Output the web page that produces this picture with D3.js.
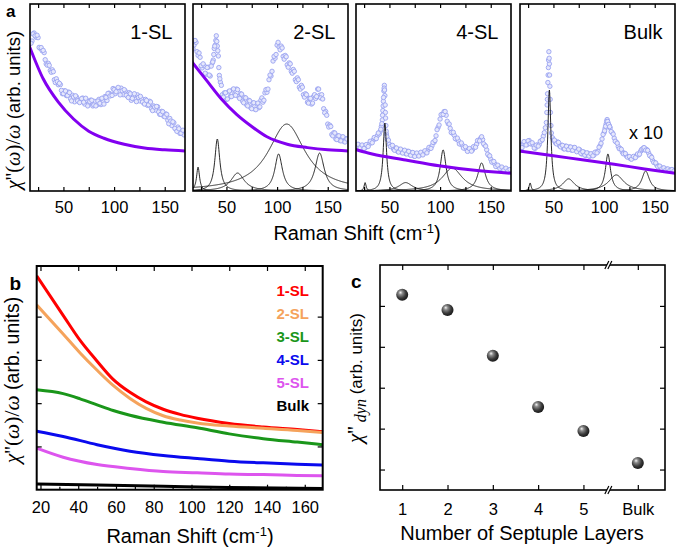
<!DOCTYPE html>
<html><head><meta charset="utf-8">
<script src="https://cdn.jsdelivr.net/npm/d3@7"></script>
<style>
body{margin:0;background:#fff}
svg{display:block}
text{font-family:"Liberation Sans",Arial,sans-serif;fill:#000}
</style>
</head><body>
<svg id="chart" width="676" height="549"></svg>
<script>
// ---------------- DATA ----------------
// Panel a: measured spectra (open circles), [Raman shift, intensity]
const scatter1SL = [[17,8.02],[19,8.02],[21,8.45],[23,8.22],[25,8.2],[27,7.63],[29,7.5],[31,7.4],[33,6.8],[35,6.83],[37,6.45],[39,6.48],[41,5.95],[43,6.0],[45,5.68],[47,5.69],[49,5.2],[51,5.36],[53,5.1],[55,5.29],[57,4.93],[59,5.12],[61,4.77],[63,5.02],[65,4.8],[67,4.86],[69,4.97],[71,4.65],[73,4.85],[75,4.67],[77,4.86],[79,4.55],[81,4.79],[83,4.6],[85,4.9],[87,4.62],[89,4.8],[91,5.05],[93,4.84],[95,5.23],[97,5.17],[99,5.48],[101,5.2],[103,5.46],[105,5.33],[107,5.5],[109,5.15],[111,5.35],[113,5.08],[115,5.26],[117,4.85],[119,5.09],[121,4.9],[123,5.14],[125,4.82],[127,4.95],[129,4.73],[131,4.9],[133,4.58],[135,4.8],[137,4.4],[139,4.55],[141,4.33],[143,4.5],[145,4.1],[147,4.26],[149,4.0],[151,4.12],[153,3.78],[155,3.88],[157,3.5],[159,3.65],[161,3.3],[163,3.42],[165,3.08],[167,3.2],[169,3.0]];
const scatter1SLb = [[18,7.9],[20,8.4],[22,8.3],[24,8.33],[26,7.68],[28,7.67],[30,7.52],[32,7.02],[34,6.73],[36,6.72],[38,6.35],[40,6.38],[42,5.8],[44,5.85],[46,5.76],[48,5.38],[50,5.21],[52,5.35],[54,5.11],[56,5.26],[58,4.82],[60,5.03],[62,5.09],[64,4.82],[66,4.73],[68,4.94],[70,4.75],[72,4.96],[74,4.55],[76,4.78],[78,4.85],[80,4.6],[82,4.55],[84,4.81],[86,4.69],[88,4.96],[90,4.65],[92,5.01],[94,5.22],[96,5.08],[98,5.11],[100,5.42],[102,5.31],[104,5.54],[106,5.14],[108,5.36],[110,5.42],[112,5.12],[114,5.0],[116,5.2],[118,4.95],[120,5.2],[122,4.78],[124,5.01],[126,5.06],[128,4.76],[130,4.65],[132,4.84],[134,4.61],[136,4.76],[138,4.3],[140,4.49],[142,4.52],[144,4.23],[146,4.1],[148,4.24],[150,3.97],[152,4.1],[154,3.6],[156,3.74],[158,3.7],[160,3.35],[162,3.19],[164,3.33],[166,3.09],[168,3.25]];
const scatter2SL = [[16,7.72],[18,7.8],[20,7.95],[22,7.25],[24,7.15],[26,6.58],[28,6.7],[30,6.25],[32,6.62],[34,6.15],[36,6.85],[37,7.0],[38,7.62],[39,7.8],[40,8.3],[41,7.75],[42,7.22],[43,6.18],[44,5.82],[46,5.15],[48,5.25],[50,4.9],[52,5.3],[54,5.05],[56,5.4],[58,5.15],[60,5.45],[62,5.05],[64,5.2],[66,4.8],[68,5.0],[70,4.6],[72,4.85],[74,4.45],[76,4.7],[78,4.38],[80,4.66],[82,4.45],[84,4.85],[86,4.75],[88,5.25],[90,5.28],[92,5.95],[94,6.15],[96,6.95],[98,7.1],[100,7.8],[102,7.7],[104,7.75],[106,7.2],[108,7.25],[110,6.75],[112,6.85],[114,6.4],[116,6.5],[118,5.95],[120,6.05],[122,5.55],[124,5.65],[126,5.15],[128,5.2],[130,4.75],[132,4.95],[134,4.65],[136,5.05],[138,4.95],[140,5.45],[142,5.12],[144,5.15],[146,4.4],[148,4.25],[150,3.58],[152,3.52],[154,3.02],[156,3.12],[158,2.78],[160,2.95],[162,2.7],[164,2.88],[166,2.65],[168,2.8]];
const scatter2SLb = [[17,7.6],[19,8.05],[21,7.45],[23,7.38],[25,6.7],[27,6.8],[29,6.3],[31,6.6],[33,6.2],[35,6.68],[36.5,6.9],[37.5,7.3],[38.5,7.75],[39.5,8.05],[40.5,8.0],[41.5,7.5],[42.5,6.6],[43.5,6.0],[45,5.65],[47,5.02],[49,5.25],[51,4.92],[53,5.35],[55,5.05],[57,5.46],[59,5.12],[61,5.42],[63,4.95],[65,5.18],[67,4.72],[69,4.98],[71,4.55],[73,4.82],[75,4.4],[77,4.72],[79,4.35],[81,4.7],[83,4.5],[85,4.98],[87,4.85],[89,5.42],[91,5.45],[93,6.2],[95,6.4],[97,7.2],[99,7.3],[101,7.95],[103,7.55],[105,7.65],[107,7.05],[109,7.18],[111,6.62],[113,6.8],[115,6.3],[117,6.4],[119,5.85],[121,5.95],[123,5.45],[125,5.55],[127,5.02],[129,5.15],[131,4.7],[133,4.95],[135,4.7],[137,5.15],[139,5.05],[141,5.45],[143,4.98],[145,4.92],[147,4.18],[149,4.05],[151,3.42],[153,3.45],[155,2.95],[157,3.1],[159,2.75],[161,2.95],[163,2.68],[165,2.9],[167,2.62],[169,2.78]];
const scatter4SL = [[16,2.5],[18,2.35],[20,2.45],[22,2.3],[24,2.42],[26,2.3],[28,2.45],[30,2.5],[32,2.62],[34,2.72],[36,2.8],[38,2.95],[40,3.05],[41,3.2],[42,3.45],[43,3.8],[43.5,4.3],[44,4.8],[44.5,5.35],[45,5.65],[45.5,5.1],[46,4.2],[46.5,3.5],[47,3.05],[48,2.75],[50,2.5],[52,2.42],[54,2.25],[56,2.3],[58,2.12],[60,2.22],[62,2.08],[64,2.15],[66,2.0],[68,2.12],[70,1.95],[72,2.05],[74,1.88],[76,1.98],[78,1.9],[80,2.02],[82,1.95],[84,2.08],[86,2.05],[88,2.2],[90,2.3],[92,2.42],[94,2.6],[96,2.95],[98,3.4],[100,3.85],[102,4.1],[104,4.25],[106,4.05],[108,3.6],[110,3.35],[112,3.1],[114,2.98],[116,2.78],[118,2.7],[120,2.52],[122,2.45],[124,2.3],[126,2.25],[128,2.15],[130,2.22],[132,2.2],[134,2.35],[136,2.5],[138,2.7],[140,2.82],[142,2.75],[144,2.45],[146,2.2],[148,1.9],[150,1.7],[152,1.55],[154,1.45],[156,1.32],[158,1.3],[160,1.22],[162,1.2],[164,1.15],[166,1.16],[168,1.1]];
const scatter4SLb = [[17,2.32],[19,2.5],[21,2.3],[23,2.46],[25,2.28],[27,2.48],[29,2.38],[31,2.66],[33,2.58],[35,2.86],[37,2.8],[39,3.1],[41.5,3.3],[42.5,3.6],[43.2,4.05],[43.8,4.55],[44.2,5.0],[44.8,5.5],[45.2,5.4],[45.8,4.6],[46.2,3.9],[46.8,3.2],[47.5,2.9],[49,2.72],[51,2.38],[53,2.44],[55,2.18],[57,2.3],[59,2.08],[61,2.24],[63,2.03],[65,2.18],[67,1.98],[69,2.12],[71,1.91],[73,2.06],[75,1.85],[77,2.03],[79,1.87],[81,2.07],[83,1.93],[85,2.15],[87,2.04],[89,2.33],[91,2.28],[93,2.6],[95,2.7],[97,3.28],[99,3.53],[101,4.08],[103,4.1],[105,4.25],[107,3.73],[109,3.58],[111,3.13],[113,3.14],[115,2.8],[117,2.83],[119,2.52],[121,2.57],[123,2.3],[125,2.37],[127,2.12],[129,2.27],[131,2.13],[133,2.37],[135,2.34],[137,2.7],[139,2.68],[141,2.9],[143,2.52],[145,2.4],[147,1.97],[149,1.88],[151,1.55],[153,1.58],[155,1.31],[157,1.38],[159,1.2],[161,1.28],[163,1.12],[165,1.22],[167,1.08],[169,1.15]];
const scatterBulk = [[16,2.42],[18,2.28],[20,2.52],[22,2.6],[24,2.48],[26,2.7],[28,2.52],[30,2.48],[32,2.28],[34,2.46],[36,2.48],[38,2.68],[40,2.93],[41,3.12],[42,3.38],[43,3.66],[43.5,4.2],[44,4.9],[44.5,5.8],[45,6.6],[45.5,7.45],[46,6.8],[46.5,5.6],[47,4.2],[47.5,3.5],[48,3.1],[49,2.85],[50,2.72],[52,2.58],[54,2.62],[56,2.42],[58,2.45],[60,2.26],[62,2.4],[64,2.22],[66,2.36],[68,2.18],[70,2.32],[72,2.2],[74,2.14],[76,2.2],[78,1.98],[80,2.08],[82,1.9],[84,2.02],[86,1.86],[88,1.97],[90,1.92],[92,2.08],[94,2.12],[96,2.42],[98,2.78],[100,3.12],[101,3.35],[102,3.58],[103,3.82],[104,3.62],[105,3.5],[106,3.38],[108,3.12],[110,2.83],[112,2.62],[114,2.38],[116,2.27],[118,2.08],[120,2.02],[122,1.88],[124,1.84],[126,1.73],[128,1.8],[130,1.78],[132,1.9],[134,1.93],[136,2.12],[138,2.2],[139,2.3],[140,2.27],[142,2.22],[144,2.03],[146,1.87],[148,1.63],[150,1.52],[152,1.38],[154,1.32],[156,1.23],[158,1.22],[160,1.16],[162,1.17],[164,1.12],[166,1.14],[168,1.1]];
const scatterBulkb = [[17,2.45],[19,2.32],[21,2.64],[23,2.46],[25,2.68],[27,2.53],[29,2.58],[31,2.3],[33,2.45],[35,2.4],[37,2.66],[39,2.74],[43.8,4.6],[44.2,5.2],[44.8,6.2],[45.2,7.0],[45.8,7.1],[46.2,6.2],[46.8,4.9],[51,2.72],[53,2.52],[55,2.6],[57,2.36],[59,2.44],[61,2.25],[63,2.39],[65,2.22],[67,2.35],[69,2.18],[71,2.33],[73,2.1],[75,2.24],[77,2.02],[79,2.1],[81,1.92],[83,2.04],[85,1.87],[87,1.99],[89,1.88],[91,2.07],[93,2.04],[95,2.34],[97,2.55],[99,3.02],[100.5,3.22],[101.5,3.46],[102.5,3.72],[103.5,3.72],[104.5,3.56],[105.5,3.44],[107,3.18],[109,3.04],[111,2.66],[113,2.56],[115,2.26],[117,2.23],[119,1.99],[121,2.0],[123,1.81],[125,1.84],[127,1.7],[129,1.85],[131,1.79],[133,1.98],[135,1.97],[137,2.22],[138.5,2.26],[139.5,2.32],[141,2.18],[143,2.17],[145,1.89],[147,1.8],[149,1.53],[151,1.5],[153,1.3],[155,1.33],[157,1.18],[159,1.24],[161,1.12],[163,1.18],[165,1.1],[167,1.15],[169,1.07]];

// Panel a: dynamic background (purple line)
const bg1SL = [[16,7.8],[30,6.0],[45,4.75],[60,3.85],[75,3.2],[90,2.82],[110,2.5],[130,2.3],[150,2.2],[170,2.14]];
const bg2SL = [[16,6.9],[30,5.94],[45,4.92],[60,4.1],[75,3.45],[90,2.9],[110,2.5],[130,2.32],[150,2.2],[170,2.14]];
const bg4SL = [[16,2.23],[33,1.98],[66,1.66],[99,1.35],[132,1.12],[170,0.95]];
const bgBulk = [[16,2.14],[50,1.88],[80,1.66],[110,1.43],[140,1.18],[170,0.95]];

// Panel a: fitted phonon peaks [centre, half width, height]
const peaks1SL = [];
const peaks2SL = [[22,1.8,1.28],[41,3,2.78],[61,8,0.96],[101.5,4.5,1.98],[109.5,22,3.58],[142,5.5,2.03]];
const peaks4SL = [[26,1.2,0.45],[45.5,2,3.63],[66,8,0.45],[103,3.5,2.2],[112,12,1.23],[141,4.5,1.5]];
const peaksBulk = [[27,1.2,0.43],[46,1.8,5.4],[65,7,0.65],[103.8,3,1.98],[112,9,0.86],[141,4.5,1.07]];

const panelANames = ["1-SL","2-SL","4-SL","Bulk"];
const panelATicks = [25,50,75,100,125,150];
const panelALabelled = [50,100,150];

// Panel b: background curves per thickness
const bNames = ["1-SL","2-SL","3-SL","4-SL","5-SL","Bulk"];
const bColors = ["#ff0000","#f5a35c","#1a961a","#0a0aee","#dd55ee","#000000"];
const b1SL = [[18,4.94],[32,4.03],[41,3.45],[50,2.97],[58.5,2.55],[67.4,2.25],[76,2.03],[85,1.86],[94,1.74],[103,1.65],[120,1.53],[138,1.45],[156,1.39],[169.5,1.34]];
const b2SL = [[18,4.27],[32,3.60],[41,3.16],[50,2.76],[58.5,2.41],[67.4,2.11],[76,1.88],[85,1.71],[94,1.61],[103,1.54],[120,1.47],[138,1.42],[156,1.37],[169.5,1.32]];
const b3SL = [[18,2.31],[32,2.22],[41,2.10],[50,1.96],[58.5,1.83],[67.4,1.72],[85,1.56],[103,1.43],[120,1.29],[138,1.18],[156,1.10],[169.5,1.04]];
const b4SL = [[18,1.35],[32,1.23],[50,1.04],[67.4,0.89],[85,0.79],[103,0.72],[120,0.66],[138,0.62],[156,0.59],[169.5,0.57]];
const b5SL = [[18,0.96],[32,0.75],[50,0.58],[67.4,0.49],[85,0.42],[103,0.39],[120,0.36],[138,0.35],[156,0.33],[169.5,0.32]];
const bBulk = [[18,0.13],[50,0.11],[85,0.08],[120,0.05],[169.5,0.03]];
const bTicks = [20,40,60,80,100,120,140,160];
const bMinor = [30,50,70,90,110,130,150];

// Panel c: chi''_dyn vs number of septuple layers
const cCategories = ["1","2","3","4","5","Bulk"];
const cPositions = [1,2,3,4,5,6.2];
const cValues = [5.27,4.9,3.78,2.53,1.94,1.16];
const cYTicks = [1,2,3,4,5];

// ---------------- DRAW ----------------
const svg = d3.select("#chart");
const defs = svg.append("defs");
const FONT = '"Liberation Sans", Arial, sans-serif';
const SERIF = '"Liberation Serif", "Times New Roman", serif';

function styleAxis(g, size){
  g.attr("font-family", FONT).attr("font-size", size);
  g.select(".domain").remove();
  g.selectAll(".tick line").attr("stroke","#000").attr("stroke-width",1.2);
  g.selectAll(".tick text").attr("fill","#000");
}

// ----- Panel a -----
const aTop = 4, aBot = 191, aW = 155, aLefts = [30,193,356,520];
const aSets = [
  {scatter:scatter1SL.concat(scatter1SLb),bg:bg1SL,peaks:peaks1SL},
  {scatter:scatter2SL.concat(scatter2SLb),bg:bg2SL,peaks:peaks2SL},
  {scatter:scatter4SL.concat(scatter4SLb),bg:bg4SL,peaks:peaks4SL},
  {scatter:scatterBulk.concat(scatterBulkb),bg:bgBulk,peaks:peaksBulk}
];
const peakGrid = d3.range(17,170.01,0.25);
aSets.forEach((s,i)=>{
  const x = d3.scaleLinear().domain([17,170]).range([aLefts[i], aLefts[i]+aW]);
  const y = d3.scaleLinear().domain([0,10]).range([aBot, aTop]);
  const cid = "clipA"+i;
  defs.append("clipPath").attr("id",cid).append("rect")
    .attr("x",aLefts[i]).attr("y",aTop).attr("width",aW).attr("height",aBot-aTop);
  const g = svg.append("g").attr("clip-path",`url(#${cid})`);
  g.selectAll("circle").data(s.scatter).join("circle")
    .attr("cx",d=>x(d[0])).attr("cy",d=>y(d[1])).attr("r",2.2)
    .attr("fill","#e6e8fc").attr("stroke","#9aa3f0").attr("stroke-width",0.9);
  const line = d3.line().x(d=>x(d[0])).y(d=>y(d[1])).curve(d3.curveMonotoneX);
  s.peaks.forEach(p=>{
    const pts = peakGrid.map(v=>[v, p[2]*p[1]*p[1]/((v-p[0])*(v-p[0])+p[1]*p[1])]);
    g.append("path").attr("d",d3.line().x(d=>x(d[0])).y(d=>y(d[1]))(pts))
      .attr("fill","none").attr("stroke","#111").attr("stroke-width",0.9);
  });
  g.append("path").attr("d",line(s.bg)).attr("fill","none")
    .attr("stroke","#8200f0").attr("stroke-width",3);
  svg.append("rect").attr("x",aLefts[i]).attr("y",aTop).attr("width",aW).attr("height",aBot-aTop)
    .attr("fill","none").attr("stroke","#000").attr("stroke-width",1.6);
  const ax = svg.append("g").attr("transform",`translate(0,${aBot})`)
    .call(d3.axisBottom(x).tickValues(panelATicks).tickSize(-4).tickPadding(10)
      .tickFormat(d=>panelALabelled.includes(d)?d:""));
  styleAxis(ax,"16.5px");
  const at = svg.append("g").attr("transform",`translate(0,${aTop})`)
    .call(d3.axisTop(x).tickValues(panelATicks).tickSize(-4).tickFormat(""));
  styleAxis(at,"16px");
  svg.append("text").attr("x",aLefts[i]+aW-12.5).attr("y",39)
    .attr("text-anchor","end").attr("font-size","20px").text(panelANames[i]);
});
svg.append("text").attr("x",aLefts[3]+aW-12).attr("y",138.5).attr("text-anchor","end")
  .attr("font-size","18px").text("x 10");

function ramanLabel(xc, yb){
  const t = svg.append("text").attr("x",xc).attr("y",yb).attr("text-anchor","middle").attr("font-size","20px");
  t.append("tspan").text("Raman Shift (cm");
  t.append("tspan").attr("dy",-7.5).attr("font-size","13px").text("-1");
  t.append("tspan").attr("dy",7.5).text(")");
}
ramanLabel(357,240);
function chiLabel(xb, yc, fs){
  const t = svg.append("text").attr("transform",`translate(${xb},${yc}) rotate(-90)`)
    .attr("text-anchor","middle").attr("font-size",fs+"px");
  const m = (txt, it)=>t.append("tspan").attr("font-family",SERIF).attr("font-size",(fs+2)+"px")
    .attr("font-style",it?"italic":"normal").text(txt);
  m("χ",true); m("''(",false); m("ω",true); m(")/",false); m("ω",true);
  t.append("tspan").text(" (arb. units)");
}
chiLabel(20,110,18.5);
svg.append("text").attr("x",6).attr("y",16.5).attr("font-weight","bold").attr("font-size","17px").text("a");

// ----- Panel b -----
const bL = 36.7, bR = 322.7, bT = 266, bB = 489.7;
const xb = d3.scaleLinear().domain([18,169.5]).range([bL,bR]);
const yb = d3.scaleLinear().domain([0,5.17]).range([bB,bT]);
defs.append("clipPath").attr("id","clipB").append("rect").attr("x",bL).attr("y",bT).attr("width",bR-bL).attr("height",bB-bT);
const gb = svg.append("g").attr("clip-path","url(#clipB)");
const bSeries = [b1SL,b2SL,b3SL,b4SL,b5SL,bBulk];
const lineB = d3.line().x(d=>xb(d[0])).y(d=>yb(d[1])).curve(d3.curveMonotoneX);
bSeries.forEach((s,i)=>{
  gb.append("path").attr("d",lineB(s)).attr("fill","none").attr("stroke",bColors[i]).attr("stroke-width",3);
});
svg.append("rect").attr("x",bL).attr("y",bT).attr("width",bR-bL).attr("height",bB-bT)
  .attr("fill","none").attr("stroke","#000").attr("stroke-width",2);
const bxa = svg.append("g").attr("transform",`translate(0,${bB})`)
  .call(d3.axisBottom(xb).tickValues(bTicks).tickSize(-5).tickPadding(11.5));
styleAxis(bxa,"16.5px");
const bxm = svg.append("g").attr("transform",`translate(0,${bB})`)
  .call(d3.axisBottom(xb).tickValues(bMinor).tickSize(-3).tickFormat(""));
styleAxis(bxm,"10px");
const bxt = svg.append("g").attr("transform",`translate(0,${bT})`)
  .call(d3.axisTop(xb).tickValues(bTicks).tickSize(-5).tickFormat(""));
styleAxis(bxt,"10px");
const byl = svg.append("g").attr("transform",`translate(${bL},0)`)
  .call(d3.axisLeft(yb).tickValues([1,2,3,4]).tickSize(-5).tickFormat(""));
styleAxis(byl,"10px");
const byr = svg.append("g").attr("transform",`translate(${bR},0)`)
  .call(d3.axisRight(yb).tickValues([1,2,3,4]).tickSize(-5).tickFormat(""));
styleAxis(byr,"10px");
bNames.forEach((n,i)=>{
  svg.append("text").attr("x",309).attr("y",295.5+i*23).attr("text-anchor","end")
    .attr("font-weight","bold").attr("font-size","15px").style("fill",bColors[i]).text(n);
});
ramanLabel(190,543);
chiLabel(19,380,19.5);
svg.append("text").attr("x",9.5).attr("y",290).attr("font-weight","bold").attr("font-size","19px").text("b");

// ----- Panel c -----
const cL = 380, cR = 665, cT = 265, cB = 490;
const xc = d3.scaleLinear().domain([0.51,6.8]).range([cL,cR]);
const yc = d3.scaleLinear().domain([0.5,6]).range([cB,cT]);
svg.append("rect").attr("x",cL).attr("y",cT).attr("width",cR-cL).attr("height",cB-cT)
  .attr("fill","none").attr("stroke","#000").attr("stroke-width",1.6);
const cxa = svg.append("g").attr("transform",`translate(0,${cB})`)
  .call(d3.axisBottom(xc).tickValues(cPositions).tickSize(-5).tickPadding(13)
    .tickFormat((d,i)=>cCategories[i]));
styleAxis(cxa,"16.5px");
const cxt = svg.append("g").attr("transform",`translate(0,${cT})`)
  .call(d3.axisTop(xc).tickValues(cPositions).tickSize(-5).tickFormat(""));
styleAxis(cxt,"10px");
const cyl = svg.append("g").attr("transform",`translate(${cL},0)`)
  .call(d3.axisLeft(yc).tickValues(cYTicks).tickSize(-5).tickFormat(""));
styleAxis(cyl,"10px");
const cyr = svg.append("g").attr("transform",`translate(${cR},0)`)
  .call(d3.axisRight(yc).tickValues(cYTicks).tickSize(-5).tickFormat(""));
styleAxis(cyr,"10px");
const breakX = xc(5.55);
[cT,cB].forEach(yy=>{
  svg.append("polygon").attr("points",`${breakX-3.5},${yy+4} ${breakX+0.5},${yy-4} ${breakX+3.5},${yy-4} ${breakX-0.5},${yy+4}`)
    .attr("fill","#fff");
  svg.append("line").attr("x1",breakX-3.5).attr("y1",yy+4).attr("x2",breakX+0.5).attr("y2",yy-4).attr("stroke","#000").attr("stroke-width",1.2);
  svg.append("line").attr("x1",breakX-0.5).attr("y1",yy+4).attr("x2",breakX+3.5).attr("y2",yy-4).attr("stroke","#000").attr("stroke-width",1.2);
});
const grad = defs.append("radialGradient").attr("id","sphere").attr("cx","40%").attr("cy","38%").attr("r","60%").attr("fx","35%").attr("fy","30%");
grad.append("stop").attr("offset","0%").attr("stop-color","#f4f4f4");
grad.append("stop").attr("offset","28%").attr("stop-color","#8a8a8a");
grad.append("stop").attr("offset","70%").attr("stop-color","#3a3a3a");
grad.append("stop").attr("offset","100%").attr("stop-color","#1c1c1c");
svg.append("g").selectAll("circle").data(cValues).join("circle")
  .attr("cx",(d,i)=>xc(cPositions[i])).attr("cy",d=>yc(d)).attr("r",6)
  .attr("fill","url(#sphere)");
svg.append("text").attr("x",522).attr("y",540).attr("text-anchor","middle").attr("font-size","20px").text("Number of Septuple Layers");
(function(){
  const t = svg.append("text").attr("transform","translate(362,378) rotate(-90)")
    .attr("text-anchor","middle").attr("font-size","17px");
  t.append("tspan").attr("font-family",SERIF).attr("font-size","21px").attr("font-style","italic").text("χ");
  t.append("tspan").attr("font-family",SERIF).attr("font-size","21px").text("''");
  t.append("tspan").attr("font-family",SERIF).attr("font-style","italic").attr("font-size","16px").attr("dy",4).text(" dyn");
  t.append("tspan").attr("dy",-4).text(" (arb. units)");
})();
svg.append("text").attr("x",351).attr("y",288).attr("font-weight","bold").attr("font-size","19px").text("c");
</script>
</body></html>
